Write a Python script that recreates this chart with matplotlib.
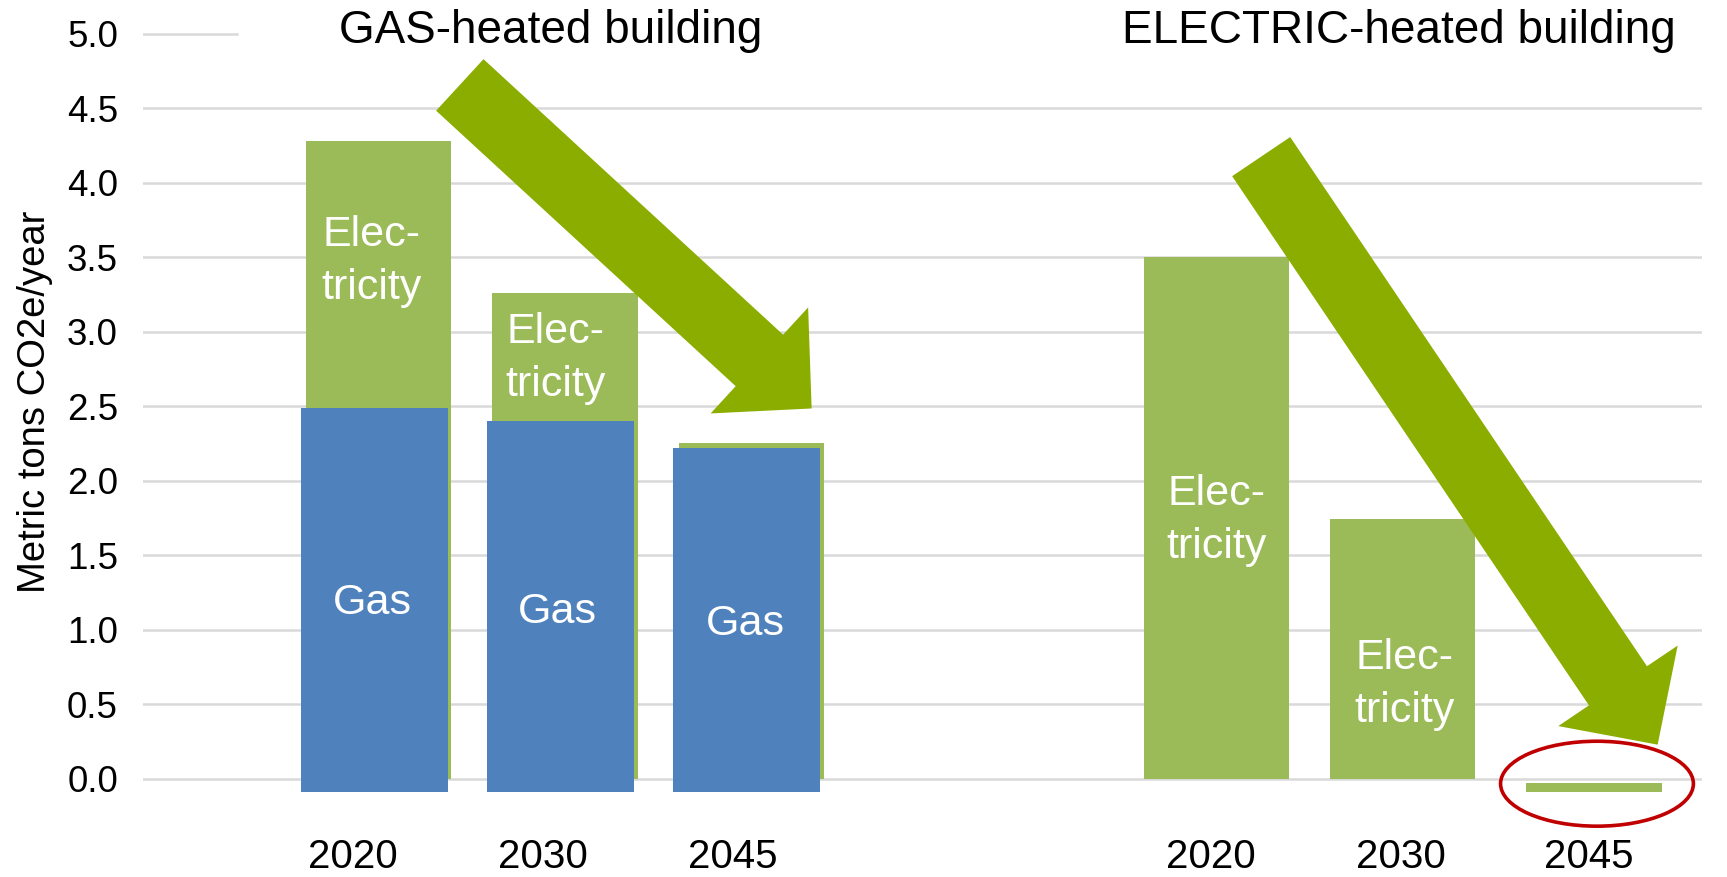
import matplotlib
matplotlib.use("Agg")
import matplotlib.pyplot as plt
from matplotlib.patches import Ellipse
import numpy as np

plt.rcParams['font.family'] = ['Liberation Sans', 'DejaVu Sans']

years = ["2020", "2030", "2045"]
# gas-heated building: total emissions and the gas part of it
gas_total = [4.28, 3.26, 2.25]
gas_part = [2.49, 2.40, 2.22]
# electric-heated building (2045 is basically zero, drawn as a sliver below the axis)
elec_total = [3.50, 1.74, 0.065]
elec_base = [0.0, 0.0, -0.09]
yticks = [0.0, 0.5, 1.0, 1.5, 2.0, 2.5, 3.0, 3.5, 4.0, 4.5, 5.0]

green = "#9bbb59"
blue = "#4f81bd"
arrow_green = "#8aad00"

gas_x = np.array([0.0, 1.0, 2.0])
elec_x = np.array([4.5, 5.5, 6.53])
w = 0.78
below = -0.09  # the blue overlays hang a little under zero

fig = plt.figure(figsize=(17.27, 8.77), dpi=100)
ax = fig.add_axes([0.0828, 0.0865, 0.9027, 0.8921])
ax.set_xlim(-1.267, 7.108)
ax.set_ylim(-0.15, 5.1)

# gridlines, the top one is mostly hidden behind the titles
for t in yticks[:-1]:
    ax.axhline(t, color="#d9d9d9", lw=1.8, zorder=0)
ax.axhline(5.0, xmin=0, xmax=0.06, color="#d9d9d9", lw=1.8, zorder=0)

# gas-heated bars: green total, blue gas on top of it
ax.bar(gas_x, gas_total, width=w, color=green, zorder=2)
ax.bar(gas_x - 0.025, np.array(gas_part) - below, bottom=below, width=w + 0.01,
       color=blue, zorder=3)

# electric-heated bars
ax.bar(elec_x, elec_total, bottom=elec_base, width=[w, w, 0.73], color=green, zorder=2)

lab = dict(color="white", fontsize=31, ha="center", va="center", zorder=4, linespacing=1.42)
ax.text(-0.04, 3.47, "Elec-\ntricity", **lab)
ax.text(0.95, 2.82, "Elec-\ntricity", **lab)
ax.text(-0.035, 1.18, "Gas", **lab)
ax.text(0.96, 1.12, "Gas", **lab)
ax.text(1.97, 1.04, "Gas", **lab)
ax.text(4.50, 1.73, "Elec-\ntricity", **lab)
ax.text(5.51, 0.63, "Elec-\ntricity", **lab)

# year labels sit a bit left of the bar centres
label_shift = [-0.14, -0.12, -0.10]
for i, y in enumerate(years):
    ax.text(gas_x[i] + label_shift[i], -0.525, y, fontsize=29, ha="center", va="center")
ax.text(4.47, -0.525, years[0], fontsize=29, ha="center", va="center")
ax.text(5.49, -0.525, years[1], fontsize=29, ha="center", va="center")
ax.text(6.50, -0.525, years[2], fontsize=29, ha="center", va="center")

ax.text(0.925, 5.02, "GAS-heated building", fontsize=33, ha="center", va="center")
ax.text(5.48, 5.02, "ELECTRIC-heated building", fontsize=33, ha="center", va="center")

# big downward arrows
style = "simple,head_length=0.511,head_width=1.037,tail_width=0.504"
ax.annotate("", xy=(2.325, 2.485), xytext=(0.435, 4.656),
            arrowprops=dict(arrowstyle=style, mutation_scale=100, color=arrow_green,
                            shrinkA=0, shrinkB=0, lw=0), zorder=5)
ax.annotate("", xy=(6.87, 0.229), xytext=(4.74, 4.175),
            arrowprops=dict(arrowstyle=style, mutation_scale=100, color=arrow_green,
                            shrinkA=0, shrinkB=0, lw=0), zorder=5)

ax.add_patch(Ellipse((6.544, -0.033), 1.036, 0.57, fill=False, ec="#c00000",
                     lw=2.6, clip_on=False, zorder=6))

ax.set_yticks(yticks)
ax.set_yticklabels(["%.1f" % t for t in yticks], fontsize=26.5)
ax.tick_params(axis="y", length=0, pad=18)
ax.set_xticks([])
for s in ax.spines.values():
    s.set_visible(False)

fig.text(35 / 1727, 1 - 402 / 877, "Metric tons CO2e/year", rotation=90,
         fontsize=27.5, ha="center", va="center")

fig.savefig("out.png", dpi=100)
